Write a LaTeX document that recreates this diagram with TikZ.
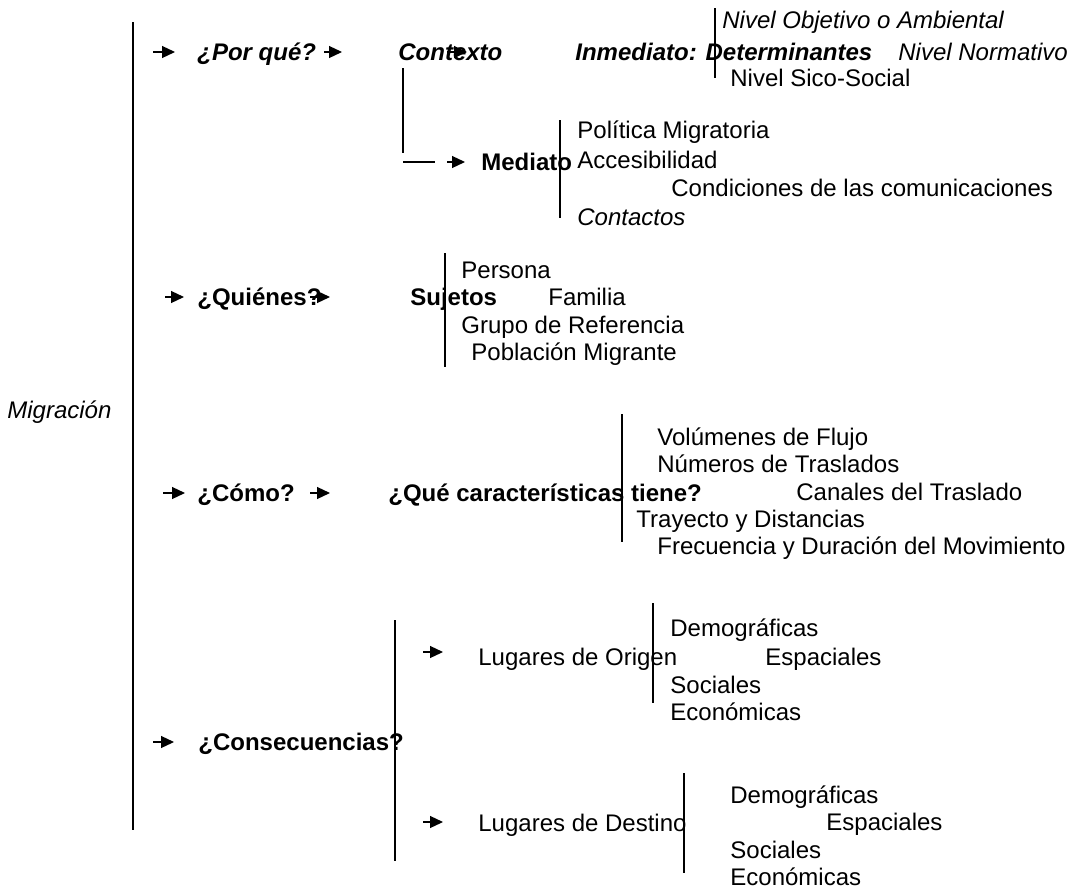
\documentclass[tikz,border=0pt]{standalone}
\usepackage{fontspec}
\setmainfont{Liberation Sans}
\usetikzlibrary{arrows.meta}

\tikzset{
  txt/.style={anchor=base west, inner sep=0pt, font=\fontsize{12}{14}\selectfont},
  txti/.style={txt, font=\fontsize{12}{14}\selectfont\itshape},
  txtb/.style={txt, font=\fontsize{12}{14}\selectfont\bfseries},
  txtbi/.style={txt, font=\fontsize{12}{14}\selectfont\bfseries\itshape},
  bar/.style={line width=0.8pt},
  arr/.style={line width=0.6pt, -{Triangle[length=6.5pt,width=6pt]}}
}

\begin{document}
\begin{tikzpicture}[x=0.5pt,y=-0.5pt]
   \useasboundingbox (0,0) rectangle (1077,889);

   % root
   \node[txti] (migr) at (7,418) {Migración};
   \coordinate (m0) at (133,22);
   \coordinate (m1) at (133,830);
   \draw[bar] (m0) -- (m1);

   % por que
   \node[txtbi] (porque)  at (197,60) {¿Por qué?};
   \node[txtbi] (ctx)     at (398,60) {Contexto};
   \node[txtbi] (inmed)   at (575,60) {Inmediato: Determinantes};
   \node[txti]  (nobj)    at (722,28) {Nivel Objetivo o Ambiental};
   \node[txti]  (nnorm)   at (898,60) {Nivel Normativo};
   \node[txt]   (nsico)   at (730,86) {Nivel Sico-Social};
   \node[txtb]  (mediato) at (481,170) {Mediato};
   \node[txt]   (polit)   at (577,138) {Política Migratoria};
   \node[txt]   (acces)   at (577,168) {Accesibilidad};
   \node[txt]   (condic)  at (671,196) {Condiciones de las comunicaciones};
   \node[txti]  (contac)  at (577,225) {Contactos};

   \coordinate (pa0) at (153,52);  \coordinate (pa1) at (175,52);
   \coordinate (pb0) at (324,52);  \coordinate (pb1) at (342,52);
   \coordinate (pc0) at (447,52);  \coordinate (pc1) at (467,52);
   \draw[arr] (pa0) -- (pa1);
   \draw[arr] (pb0) -- (pb1);
   \draw[arr] (pc0) -- (pc1);

   \coordinate (in0) at (715,8);   \coordinate (in1) at (715,78);
   \draw[bar] (in0) -- (in1);

   % contexto -> mediato
   \coordinate (cx0) at (403,68);  \coordinate (cx1) at (403,153);
   \coordinate (cx2) at (403,162); \coordinate (cx3) at (435,162);
   \coordinate (pd0) at (447,162); \coordinate (pd1) at (465,162);
   \draw[bar] (cx0) -- (cx1);
   \draw[line width=0.6pt] (cx2) -- (cx3);
   \draw[arr] (pd0) -- (pd1);
   \coordinate (me0) at (560,120); \coordinate (me1) at (560,218);
   \draw[bar] (me0) -- (me1);

   % quienes
   \node[txtb] (quien)  at (197,305) {¿Quiénes?};
   \node[txtb] (suj)    at (410,305) {Sujetos};
   \node[txt]  (pers)   at (461,278) {Persona};
   \node[txt]  (fam)    at (548,305) {Familia};
   \node[txt]  (grupo)  at (461,333) {Grupo de Referencia};
   \node[txt]  (pobl)   at (471,360) {Población Migrante};

   \coordinate (qa0) at (165,297); \coordinate (qa1) at (184,297);
   \coordinate (qb0) at (310,297); \coordinate (qb1) at (330,297);
   \draw[arr] (qa0) -- (qa1);
   \draw[arr] (qb0) -- (qb1);
   \coordinate (su0) at (445,253); \coordinate (su1) at (445,367);
   \draw[bar] (su0) -- (su1);

   % como
   \node[txtb] (como)   at (197,501) {¿Cómo?};
   \node[txtb] (carac)  at (388,501) {¿Qué características tiene?};
   \node[txt]  (volum)  at (657,445) {Volúmenes de Flujo};
   \node[txt]  (numer)  at (657,472) {Números de Traslados};
   \node[txt]  (canal)  at (796,500) {Canales del Traslado};
   \node[txt]  (tray)   at (636,527) {Trayecto y Distancias};
   \node[txt]  (frec)   at (657,554) {Frecuencia y Duración del Movimiento};

   \coordinate (ca0) at (163,493); \coordinate (ca1) at (185,493);
   \coordinate (cb0) at (310,493); \coordinate (cb1) at (330,493);
   \draw[arr] (ca0) -- (ca1);
   \draw[arr] (cb0) -- (cb1);
   \coordinate (ch0) at (622,414); \coordinate (ch1) at (622,542);
   \draw[bar] (ch0) -- (ch1);

   % consecuencias
   \node[txtb] (consec) at (198,750) {¿Consecuencias?};
   \node[txt]  (orig)   at (478,665) {Lugares de Origen};
   \node[txt]  (odem)   at (670,636) {Demográficas};
   \node[txt]  (oesp)   at (765,665) {Espaciales};
   \node[txt]  (osoc)   at (670,693) {Sociales};
   \node[txt]  (oeco)   at (670,720) {Económicas};
   \node[txt]  (dest)   at (478,831) {Lugares de Destino};
   \node[txt]  (ddem)   at (730,803) {Demográficas};
   \node[txt]  (desp)   at (826,830) {Espaciales};
   \node[txt]  (dsoc)   at (730,858) {Sociales};
   \node[txt]  (deco)   at (730,885) {Económicas};

   \coordinate (ka0) at (153,742); \coordinate (ka1) at (174,742);
   \coordinate (kb0) at (423,652); \coordinate (kb1) at (443,652);
   \coordinate (kc0) at (423,822); \coordinate (kc1) at (443,822);
   \draw[arr] (ka0) -- (ka1);
   \draw[arr] (kb0) -- (kb1);
   \draw[arr] (kc0) -- (kc1);
   \coordinate (ks0) at (395,620); \coordinate (ks1) at (395,861);
   \coordinate (or0) at (653,603); \coordinate (or1) at (653,703);
   \coordinate (de0) at (684,773); \coordinate (de1) at (684,873);
   \draw[bar] (ks0) -- (ks1);
   \draw[bar] (or0) -- (or1);
   \draw[bar] (de0) -- (de1);
\end{tikzpicture}
\end{document}
